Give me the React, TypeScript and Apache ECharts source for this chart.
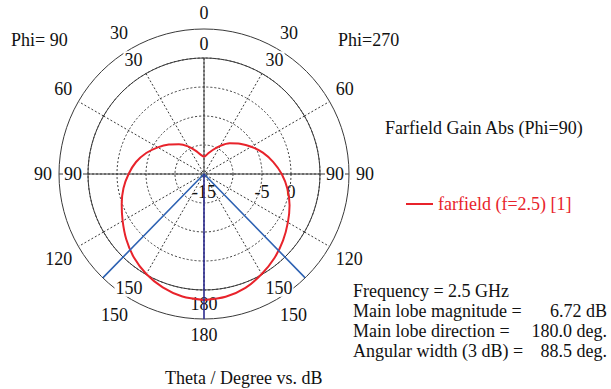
import React, { useEffect, useRef } from "react";
import * as echarts from "echarts";

// Theta (deg) from the top, for both half-planes
const THETA = [0, 10, 20, 30, 40, 50, 60, 70, 80, 90, 100, 110, 120, 130, 140, 150, 160, 170, 180];
// Gain (dB), left half (Phi = 90)
const GAIN_PHI90 = [-12.0, -11.6, -10.7, -9.5, -8.3, -7.1, -5.8, -4.4, -3.1, -2.0, -0.9, 0.1, 1.2, 2.5, 3.8, 4.9, 5.8, 6.45, 6.72];
// Gain (dB), right half (Phi = 270)
const GAIN_PHI270 = [-12.0, -11.5, -10.6, -9.4, -8.1, -6.9, -5.6, -4.2, -2.9, -1.6, -0.4, 0.7, 1.7, 2.8, 3.9, 4.9, 5.9, 6.5, 6.72];

const MAIN_LOBE_DIR = 180;
const BEAM_EDGES = [135.75, 224.25];
const R_MIN = -15;
const R_GRID_MAX = 5;
const R_OUTER = 10;
const INNER_ANGLE_LABELS = [0, 30, 90, 150, 180];
const RADIUS_LABELS = [-15, -5, 0];
const EXT_DASH_ANGLES = [60, 120, 240, -60];

const SERIES_NAME = "farfield (f=2.5) [1]";
const TITLE = "Farfield Gain Abs (Phi=90)";
const INFO_LEFT = ["Frequency = 2.5 GHz", "Main lobe magnitude =", "Main lobe direction =", "Angular width (3 dB) ="];
const INFO_RIGHT = ["", "6.72 dB", "180.0 deg.", "88.5 deg."];

const FONT = "'Liberation Serif', 'Times New Roman', serif";
const RED = "#e8232b";
const GRID = "#3a3a3a";

export default function App() {
  const ref = useRef<HTMLDivElement>(null);
  useEffect(() => {
    if (!ref.current) return;
    const chart = echarts.init(ref.current, undefined, { renderer: "svg" });
    const cx = 204, cy = 174;

    // curve: right half (angle value -theta or 360-theta), then left half (+theta)
    const curve: any[] = [];
    for (let i = THETA.length - 1; i >= 0; i--) {
      const t = THETA[i];
      curve.push([GAIN_PHI270[i], t <= 90 ? -t : 360 - t]);
    }
    for (let i = 1; i < THETA.length; i++) curve.push([GAIN_PHI90[i], THETA[i]]);

    const lineSeries = (data: any[], color: string, width: number, z: number, type: any = "solid", name?: string) => ({
      type: "line",
      name,
      coordinateSystem: "polar",
      polarIndex: 1,
      data,
      symbol: "none",
      silent: true,
      clip: false,
      z,
      lineStyle: { color, width, type },
    });

    const texts: any[] = [];
    const addText = (text: string, x: number, y: number, align = "left", color = "#111") =>
      texts.push({
        type: "text",
        x,
        y,
        style: { text, fill: color, font: `18px ${FONT}`, textAlign: align, textVerticalAlign: "middle" },
      });
    addText("Phi= 90", 11, 40);
    addText("Phi=270", 338, 40);
    const infoY = [291, 311, 331, 351];
    INFO_LEFT.forEach((t, i) => addText(t, 353, infoY[i]));
    INFO_RIGHT.forEach((t, i) => t && addText(t, 607, infoY[i], "right"));
    addText("Theta / Degree vs. dB", 165, 378);

    chart.setOption({
      animation: false,
      title: {
        text: TITLE,
        left: 385,
        top: 119,
        padding: 0,
        textStyle: { fontFamily: FONT, fontSize: 18, fontWeight: "normal", color: "#111" },
      },
      legend: {
        data: [{ name: SERIES_NAME, icon: "rect" }],
        left: 401,
        top: 190,
        itemWidth: 27,
        itemHeight: 2,
        selectedMode: false,
        textStyle: { fontFamily: FONT, fontSize: 18, color: RED },
      },
      polar: [
        { center: [cx, cy], radius: 116 },
        { center: [cx, cy], radius: 145 },
      ],
      angleAxis: [
        {
          polarIndex: 0,
          type: "value",
          min: -180,
          max: 180,
          interval: 30,
          startAngle: 270,
          clockwise: false,
          z: 5,
          axisLine: { show: true, lineStyle: { color: GRID, width: 1 } },
          axisTick: { show: false },
          splitLine: { show: true, lineStyle: { color: GRID, width: 1, type: [2, 2] } },
          axisLabel: {
            margin: 5,
            formatter: (v: number) => (INNER_ANGLE_LABELS.includes(Math.abs(v)) ? `{a|${Math.abs(v)}}` : ""),
            rich: {
              a: { backgroundColor: "#fff", padding: [0, 1], fontFamily: FONT, fontSize: 18, color: "#111" },
            },
          },
        },
        {
          polarIndex: 1,
          type: "value",
          min: -90,
          max: 270,
          interval: 30,
          startAngle: 0,
          clockwise: false,
          z: 1,
          axisLine: { show: true, lineStyle: { color: GRID, width: 1 } },
          axisTick: { show: false },
          splitLine: { show: false },
          axisLabel: {
            margin: 7,
            fontFamily: FONT,
            fontSize: 18,
            color: "#111",
            formatter: (v: number) => String(v <= 180 ? Math.abs(v) : 360 - v),
          },
        },
      ],
      radiusAxis: [
        {
          polarIndex: 0,
          type: "value",
          min: R_MIN,
          max: R_GRID_MAX,
          interval: 5,
          z: 4,
          axisLine: { show: false },
          axisTick: { show: false },
          axisLabel: { show: false },
          splitLine: { show: true, lineStyle: { color: GRID, width: 1, type: [2, 2] } },
        },
        {
          polarIndex: 1,
          type: "value",
          min: R_MIN,
          max: R_OUTER,
          interval: 5,
          z: 4,
          axisLine: { show: false },
          axisTick: { show: false },
          splitLine: { show: false },
          axisLabel: {
            margin: -9,
            verticalAlign: "top",
            align: "center",
            fontFamily: FONT,
            fontSize: 18,
            color: "#111",
            formatter: (v: number) => (RADIUS_LABELS.includes(v) ? String(v) : ""),
          },
        },
      ],
      series: [
        lineSeries([[R_OUTER, 90], [R_OUTER, -90]], GRID, 1, 1),
        lineSeries([[R_MIN, 0], [R_GRID_MAX, 0]], GRID, 1, 1),
        ...EXT_DASH_ANGLES.map((a) => lineSeries([[R_GRID_MAX, a], [R_OUTER, a]], GRID, 1, 1, [2, 2])),
        {
          ...lineSeries(curve, RED, 2, 6, "solid", SERIES_NAME),
          silent: false,
          smooth: 0.3,
          itemStyle: { color: RED },
        },
        lineSeries([[R_OUTER, BEAM_EDGES[0]], [R_MIN, 0], [R_OUTER, BEAM_EDGES[1]]], "#2f63b3", 1.6, 7),
        lineSeries([[R_MIN, MAIN_LOBE_DIR], [R_OUTER, MAIN_LOBE_DIR]], "#2b2a8e", 1.6, 8),
      ],
      graphic: texts,
    });
    return () => chart.dispose();
  }, []);
  return (
    <div style={{ position: "fixed", left: 0, top: 0, width: 611, height: 389, background: "#fff" }}>
      <div ref={ref} style={{ width: 611, height: 389 }} />
    </div>
  );
}
